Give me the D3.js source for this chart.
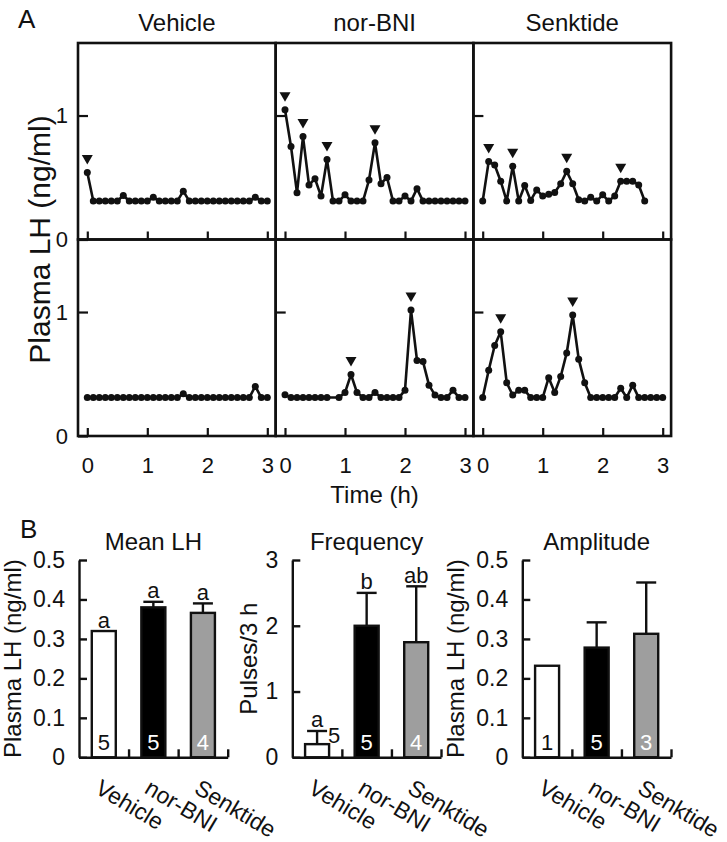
<!DOCTYPE html>
<html><head><meta charset="utf-8">
<script src="https://cdn.jsdelivr.net/npm/d3@7"></script>
<style>
body{margin:0;background:#fff}
svg{display:block}
text{font-family:"Liberation Sans",Arial,Helvetica,sans-serif;fill:#111}
</style>
</head><body>
<svg id="chart" width="727" height="842"></svg>
<script>
// ---------------- DATA ----------------
const treatments = ["Vehicle", "nor-BNI", "Senktide"];
const timeH = [0,0.1,0.2,0.3,0.4,0.5,0.6,0.7,0.8,0.9,1.0,1.1,1.2,1.3,1.4,1.5,1.6,1.7,1.8,1.9,2.0,2.1,2.2,2.3,2.4,2.5,2.6,2.7,2.8,2.9,3.0];
const timeTicks = [0, 1, 2, 3];
const lhTicksA = [0, 1];

// Individual LH profiles (ng/ml), row 1 and row 2 animals
const vehicleTop  = [0.54,0.31,0.31,0.31,0.31,0.31,0.355,0.31,0.31,0.31,0.31,0.34,0.31,0.31,0.31,0.31,0.39,0.31,0.31,0.31,0.31,0.31,0.31,0.31,0.31,0.31,0.31,0.31,0.34,0.31,0.31];
const norBNITop   = [1.046,0.75,0.377,0.83,0.44,0.49,0.35,0.645,0.31,0.31,0.36,0.31,0.31,0.31,0.48,0.78,0.45,0.5,0.31,0.31,0.35,0.31,0.41,0.31,0.31,0.31,0.31,0.31,0.31,0.31,0.31];
const senktideTop = [0.31,0.63,0.6,0.47,0.31,0.59,0.31,0.435,0.315,0.40,0.35,0.365,0.38,0.45,0.55,0.45,0.32,0.31,0.34,0.31,0.36,0.31,0.35,0.47,0.47,0.47,0.44,0.31];
const vehicleBot  = [0.31,0.31,0.31,0.31,0.31,0.31,0.31,0.31,0.31,0.31,0.31,0.31,0.31,0.31,0.31,0.31,0.34,0.31,0.31,0.31,0.31,0.31,0.31,0.31,0.31,0.31,0.31,0.31,0.40,0.31,0.31];
const norBNIBot   = [0.333,0.31,0.31,0.31,0.31,0.31,0.31,0.31,null,0.31,0.35,0.496,0.35,0.31,0.31,0.35,0.31,0.31,0.31,0.31,0.37,1.016,0.61,0.60,0.41,0.33,0.31,0.31,0.37,0.31,0.31];
const senktideBot = [0.31,0.53,0.73,0.84,0.43,0.33,0.37,0.37,0.31,0.31,0.31,0.47,0.35,0.48,0.67,0.976,0.62,0.43,0.31,0.31,0.31,0.31,0.31,0.385,0.31,0.41,0.31,0.31,0.31,0.31,0.31];

// indices of detected LH pulses (arrowheads)
const pulsesVehicleTop  = [0];
const pulsesNorBNITop   = [0, 3, 7, 15];
const pulsesSenktideTop = [1, 5, 14, 23];
const pulsesVehicleBot  = [];
const pulsesNorBNIBot   = [11, 21];
const pulsesSenktideBot = [3, 15];

// Panel B
const meanLH      = [0.32, 0.38, 0.366];
const meanLHSem   = [0, 0.014, 0.024];
const meanLHN     = [5, 5, 4];
const meanLHSig   = ["a", "a", "a"];
const meanLHTicks = [0, 0.1, 0.2, 0.3, 0.4, 0.5];

const freq      = [0.2, 2.0, 1.75];
const freqSem   = [0.2, 0.5, 0.85];
const freqN     = [5, 5, 4];
const freqSig   = ["a", "b", "ab"];
const freqTicks = [0, 1, 2, 3];

const amp      = [0.232, 0.278, 0.313];
const ampSem   = [0, 0.064, 0.13];
const ampN     = [1, 5, 3];
const ampSig   = ["", "", ""];
const ampTicks = [0, 0.1, 0.2, 0.3, 0.4, 0.5];

// ---------------- DRAW ----------------
const svg = d3.select("#chart");
const FONT = 22;

// ---- Panel A ----
const A = {x0: 78, y0: 43, w: 197.7, h: 196.5};
const profiles = [
  [vehicleTop, norBNITop, senktideTop],
  [vehicleBot, norBNIBot, senktideBot]
];
const pulses = [
  [pulsesVehicleTop, pulsesNorBNITop, pulsesSenktideTop],
  [pulsesVehicleBot, pulsesNorBNIBot, pulsesSenktideBot]
];
const xA = d3.scaleLinear().domain([-0.155, 3.14]).range([0, A.w]);
const yA = d3.scaleLinear().domain([0, 1.585]).range([A.h, 0]);

svg.append("text").attr("x", 18).attr("y", 28).attr("font-size", 26).text("A");

treatments.forEach((t, c) => {
  svg.append("text").attr("x", A.x0 + c * A.w + A.w / 2).attr("y", 31)
    .attr("text-anchor", "middle").attr("font-size", 24).text(t);
});

for (let r = 0; r < 2; r++) {
  for (let c = 0; c < 3; c++) {
    const g = svg.append("g").attr("transform", `translate(${A.x0 + c * A.w},${A.y0 + r * A.h})`);
    const vals = profiles[r][c];
    const pts = vals.map((v, i) => ({t: timeH[i], v: v, i: i})).filter(d => d.v !== null);

    // x ticks (inward)
    const xAxis = g.append("g").attr("transform", `translate(0,${A.h})`)
      .call(d3.axisBottom(xA).tickValues(timeTicks).tickSize(-8).tickPadding(21)
        .tickFormat(r === 1 ? d3.format("d") : ""));
    xAxis.select(".domain").remove();
    xAxis.selectAll("line").attr("stroke", "#111").attr("stroke-width", 2.2);
    xAxis.selectAll("text").attr("font-size", FONT).attr("fill", "#111")
      .style("font-family", '"Liberation Sans",Arial,sans-serif');

    // y ticks (inward)
    const yAxis = g.append("g")
      .call(d3.axisLeft(yA).tickValues(c === 0 ? lhTicksA : [1]).tickSize(-10).tickPadding(10)
        .tickFormat(c === 0 ? d3.format("d") : ""));
    yAxis.select(".domain").remove();
    yAxis.selectAll("line").attr("stroke", "#111").attr("stroke-width", 2.2);
    yAxis.selectAll("text").attr("font-size", FONT).attr("fill", "#111")
      .style("font-family", '"Liberation Sans",Arial,sans-serif');

    // frame
    g.append("rect").attr("width", A.w).attr("height", A.h)
      .attr("fill", "none").attr("stroke", "#111").attr("stroke-width", 2.6);

    // line
    g.append("path").datum(pts)
      .attr("d", d3.line().x(d => xA(d.t)).y(d => yA(d.v)))
      .attr("fill", "none").attr("stroke", "#111").attr("stroke-width", 2.6)
      .attr("stroke-linejoin", "round");
    g.selectAll("circle").data(pts).join("circle")
      .attr("cx", d => xA(d.t)).attr("cy", d => yA(d.v)).attr("r", 3.5).attr("fill", "#111");

    // pulse arrowheads
    g.selectAll("path.pulse").data(pulses[r][c].map(i => ({t: timeH[i], v: vals[i]})))
      .join("path").attr("class", "pulse")
      .attr("d", d => {
        const px = xA(d.t), py = yA(d.v);
        return `M${px - 5.5},${py - 17.5}L${px + 5.5},${py - 17.5}L${px},${py - 8}Z`;
      })
      .attr("fill", "#111");
  }
}

svg.append("text").attr("transform", `translate(50,${A.y0 + A.h}) rotate(-90)`)
  .attr("text-anchor", "middle").attr("font-size", 30).text("Plasma LH (ng/ml)");
svg.append("text").attr("x", A.x0 + 1.5 * A.w).attr("y", 503)
  .attr("text-anchor", "middle").attr("font-size", 24).text("Time (h)");

// ---- Panel B ----
svg.append("text").attr("x", 20).attr("y", 538).attr("font-size", 26).text("B");

const B = {yBottom: 757.3, h: 197.3, w: 148.7, barW: 24};
const charts = [
  {x0: 79,    title: "Mean LH",   vals: meanLH, sem: meanLHSem, n: meanLHN, sig: meanLHSig, ticks: meanLHTicks, max: 0.5,
   ylab: "Plasma LH (ng/ml)", ylabX: 21},
  {x0: 292.3, title: "Frequency", vals: freq,   sem: freqSem,   n: freqN,   sig: freqSig,   ticks: freqTicks,   max: 3,
   ylab: "Pulses/3 h", ylabX: 257},
  {x0: 522.3, title: "Amplitude", vals: amp,    sem: ampSem,    n: ampN,    sig: ampSig,    ticks: ampTicks,    max: 0.5,
   ylab: "Plasma LH (ng/ml)", ylabX: 464}
];
const fills = ["#ffffff", "#000000", "#9e9e9e"];
const nColors = ["#111", "#fff", "#fff"];

charts.forEach(ch => {
  const g = svg.append("g").attr("transform", `translate(${ch.x0},${B.yBottom - B.h})`);
  const y = d3.scaleLinear().domain([0, ch.max]).range([B.h, 0]);
  const xb = d3.scaleBand().domain(treatments).range([0, B.w]);
  const xl = d3.scaleLinear().domain([0, 3]).range([0, B.w]);

  svg.append("text").attr("x", ch.x0 + B.w / 2).attr("y", 550)
    .attr("text-anchor", "middle").attr("font-size", 24).text(ch.title);

  // bars
  treatments.forEach((t, i) => {
    const bx = xb(t) + (xb.bandwidth() - B.barW) / 2;
    const cx = bx + B.barW / 2;
    if (ch.sem[i] > 0) {
      g.append("line").attr("x1", cx).attr("x2", cx)
        .attr("y1", y(ch.vals[i])).attr("y2", y(ch.vals[i] + ch.sem[i]))
        .attr("stroke", "#111").attr("stroke-width", 2.4);
      g.append("line").attr("x1", cx - 10).attr("x2", cx + 10)
        .attr("y1", y(ch.vals[i] + ch.sem[i])).attr("y2", y(ch.vals[i] + ch.sem[i]))
        .attr("stroke", "#111").attr("stroke-width", 2.4);
    }
    g.append("rect").attr("x", bx).attr("y", y(ch.vals[i]))
      .attr("width", B.barW).attr("height", B.h - y(ch.vals[i]))
      .attr("fill", fills[i]).attr("stroke", "#111").attr("stroke-width", 2.4);
    if (ch.sig[i]) {
      g.append("text").attr("x", cx).attr("y", y(ch.vals[i] + ch.sem[i]) - 3.5)
        .attr("text-anchor", "middle").attr("font-size", FONT).text(ch.sig[i]);
    }
    const tall = (B.h - y(ch.vals[i])) > 30;
    g.append("text")
      .attr("x", tall ? cx : bx + B.barW - 1)
      .attr("y", tall ? B.h - 7 : B.h - 14.5)
      .attr("text-anchor", tall ? "middle" : "start")
      .attr("font-size", FONT).style("fill", tall ? nColors[i] : "#111").text(ch.n[i]);

    // category label
    g.append("text").attr("transform", `translate(${cx - 10},${B.h + 35}) rotate(31)`)
      .attr("font-size", 23).text(t);
  });

  // y axis
  const ya = g.append("g").call(d3.axisLeft(y).tickValues(ch.ticks).tickSizeInner(-8).tickSizeOuter(0)
    .tickPadding(14).tickFormat(v => v === 0 ? "0" : (ch.max < 1 ? v.toFixed(1) : String(v))));
  ya.selectAll("line,path").attr("stroke", "#111").attr("stroke-width", 2.4);
  ya.selectAll("text").attr("font-size", 23).attr("fill", "#111")
    .style("font-family", '"Liberation Sans",Arial,sans-serif');

  // x axis
  const xa = g.append("g").attr("transform", `translate(0,${B.h})`)
    .call(d3.axisBottom(xl).tickValues([1, 2, 3]).tickSizeInner(-8).tickSizeOuter(0).tickFormat(""));
  xa.selectAll("line,path").attr("stroke", "#111").attr("stroke-width", 2.4);

  svg.append("text").attr("transform", `translate(${ch.ylabX},${B.yBottom - B.h / 2}) rotate(-90)`)
    .attr("text-anchor", "middle").attr("font-size", 24).text(ch.ylab);
});
</script>
</body></html>
